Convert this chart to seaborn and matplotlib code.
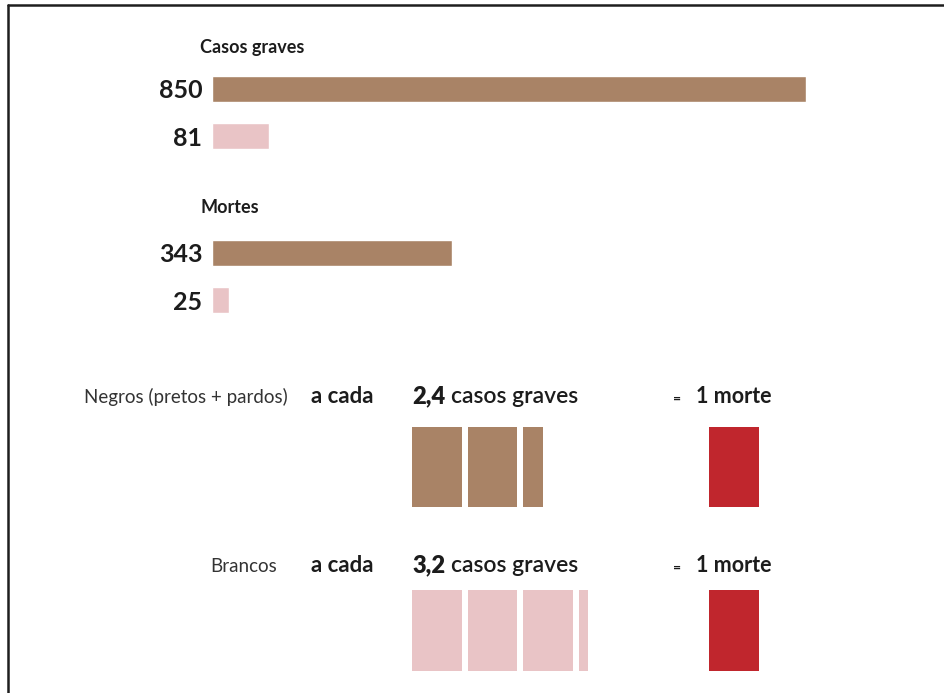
import matplotlib
matplotlib.use("Agg")
import matplotlib.pyplot as plt
from matplotlib.lines import Line2D
import seaborn as sns
import pandas as pd

# --- data -------------------------------------------------------------
group_titles = ["Casos graves", "Mortes"]
groups = ["Negros", "Brancos"]
casos_graves = [850, 81]
mortes = [343, 25]

row_labels = ["Negros (pretos + pardos)", "Brancos"]
casos_por_morte = [2.4, 3.2]

# --- style ------------------------------------------------------------
sns.set_theme(style="white")
plt.rcParams["font.family"] = ["Lato", "DejaVu Sans"]

BROWN = "#a98366"
PINK = "#e9c4c6"
RED = "#c0262d"
INK = "#1c1c1c"

W, H = 944, 693
fig = plt.figure(figsize=(W / 100, H / 100), dpi=100)
fig.patch.set_facecolor("white")


def box(x0, y0, x1, y1):
    """pixel box (top-left origin) -> figure fraction rect"""
    return [x0 / W, 1 - y1 / H, (x1 - x0) / W, (y1 - y0) / H]


def fx(x):
    return x / W


def fy(y):
    return 1 - y / H


# frame lines (top and left)
fig.add_artist(Line2D([fx(8), 1], [fy(4.5), fy(4.5)], color="#1e1e1e", lw=1.8,
                      transform=fig.transFigure))
fig.add_artist(Line2D([fx(8), fx(8)], [fy(4.5), 0], color="#1e1e1e", lw=1.8,
                      transform=fig.transFigure))

# --- horizontal bars: one axes per block, same x scale ------------------
xmax = max(casos_graves)
blocks = [
    (group_titles[0], casos_graves, 65.5, 159.5, 53),
    (group_titles[1], mortes, 229.5, 323.5, 213),
]
for title, vals, top, bottom, title_base in blocks:
    ax = fig.add_axes(box(212, top, 806, bottom))
    df = pd.DataFrame({"valor": vals, "rotulo": [str(v) for v in vals],
                       "grupo": groups})
    sns.barplot(data=df, x="valor", y="rotulo", hue="grupo",
                palette=[BROWN, PINK], orient="h", width=0.553,
                legend=False, ax=ax, saturation=1)
    ax.set_xlim(0, xmax)
    ax.set_ylim(1.5, -0.5)
    ax.set_xlabel("")
    ax.set_ylabel("")
    ax.set_xticks([])
    ax.tick_params(axis="y", length=0, pad=7)
    for lab in ax.get_yticklabels():
        lab.set_fontsize(18)
        lab.set_fontweight("bold")
        lab.set_color(INK)
    sns.despine(ax=ax, left=True, bottom=True)
    ax.patch.set_alpha(0)
    fig.text(fx(200), fy(title_base), title, fontsize=13, fontweight="bold",
             color=INK, ha="left", va="baseline")

# --- pictogram rows: casos graves per morte ---------------------------
PITCH = 55.5          # px per unit
UNIT_W = 0.9          # fraction of pitch filled by a unit block
RED_AT = (709 - 412) / PITCH
rows = [
    (row_labels[0], casos_por_morte[0], BROWN, 403, 427, 507, 288),
    (row_labels[1], casos_por_morte[1], PINK, 572, 590, 671, 277),
]

fig.canvas.draw()
renderer = fig.canvas.get_renderer()

for label, ratio, color, base, top, bottom, label_right in rows:
    ax = fig.add_axes(box(412, top, 412 + 6.25 * PITCH, bottom))
    full = int(ratio)
    starts = list(range(full + 1))
    widths = [min(1.0, ratio - s) * UNIT_W for s in starts]
    pieces = [(s, w) for s, w in zip(starts, widths) if w > 1e-9]
    ax.barh([0] * len(pieces), [w for _, w in pieces],
            left=[s for s, _ in pieces], height=1.0, color=color,
            linewidth=0)
    ax.barh([0], [UNIT_W], left=[RED_AT], height=1.0, color=RED, linewidth=0)
    ax.set_xlim(0, 6.25)
    ax.set_ylim(-0.5, 0.5)
    ax.axis("off")

    fig.text(fx(label_right), fy(base), label, fontsize=13.5,
             fontweight="normal", color="#333333", ha="right", va="baseline")
    fig.text(fx(311), fy(base), "a cada", fontsize=16, fontweight="bold",
             color=INK, ha="left", va="baseline")
    num = fig.text(fx(412), fy(base), f"{ratio:.1f}".replace(".", ","),
                   fontsize=17, fontweight="heavy", color=INK,
                   ha="left", va="baseline")
    bb = num.get_window_extent(renderer=renderer)
    fig.text((bb.x1 + 6) / W, fy(base), "casos graves", fontsize=16.5,
             fontweight="semibold", color=INK, ha="left", va="baseline")
    fig.text(fx(673), fy(base), "=", fontsize=10, fontweight="bold",
             color=INK, ha="left", va="baseline")
    fig.text(fx(696), fy(base), "1 morte", fontsize=15.5, fontweight="bold",
             color=INK, ha="left", va="baseline")

fig.savefig("out.png", dpi=100, facecolor="white")
